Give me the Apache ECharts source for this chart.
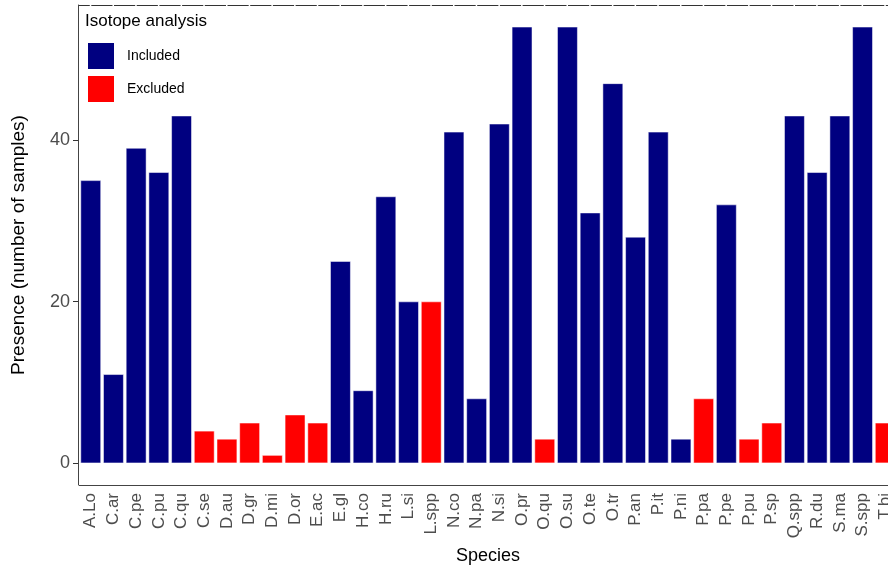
<!DOCTYPE html>
<html><head><meta charset="utf-8">
<script src="https://cdn.jsdelivr.net/npm/echarts@6/dist/echarts.min.js"></script>
<style>html,body{margin:0;padding:0;background:#fff}#c{width:888px;height:566px}</style>
</head><body><div id="c"></div>
<script>
const categories = ['A.Lo','C.ar','C.pe','C.pu','C.qu','C.se','D.au','D.gr','D.mi','D.or','E.ac','E.gl','H.co','H.ru','L.si','L.spp','N.co','N.pa','N.si','O.pr','O.qu','O.su','O.te','O.tr','P.an','P.it','P.ni','P.pa','P.pe','P.pu','P.sp','Q.spp','R.du','S.ma','S.spp','T.bi'];
const included = [35,11,39,36,43,null,null,null,null,null,null,25,9,33,20,null,41,8,42,54,null,54,31,47,28,41,3,null,32,null,null,43,36,43,54,null];
const excluded = [null,null,null,null,null,4,3,5,1,6,5,null,null,null,null,20,null,null,null,null,3,null,null,null,null,null,null,8,null,3,5,null,null,null,null,5];
const yTicks = [0,20,40];
const seriesNames = ['Included','Excluded'];

const chart = echarts.init(document.getElementById('c'), null, {renderer:'canvas'});
const FONT = 'Liberation Sans, Arial, sans-serif';
const band = 22.7;
chart.setOption({
  animation: false,
  textStyle: {fontFamily: FONT},
  title: {text: 'Isotope analysis', left: 85, top: 13, padding: 0,
    textStyle: {fontFamily: FONT, fontSize: 17, fontWeight: 'normal', color: '#000'}},
  legend: {data: seriesNames, orient: 'vertical', left: 86, top: 41, padding: 0,
    itemWidth: 28, itemHeight: 28, itemGap: 3, icon: 'rect',
    textStyle: {fontFamily: FONT, fontSize: 14, color: '#000', padding: [0,0,0,7]}},
  grid: {left: 79.4, top: 5, width: band*36, bottom: 81, containLabel: false, outerBoundsMode: 'none'},
  xAxis: [{
    type: 'category', data: categories, position: 'bottom',
    name: 'Species', nameLocation: 'middle', nameGap: 62,
    nameTextStyle: {fontFamily: FONT, fontSize: 18, color: '#000'},
    axisLine: {onZero: false, lineStyle: {color: '#444', width: 1}},
    axisTick: {alignWithLabel: true, length: 5, lineStyle: {color: '#333'}},
    axisLabel: {rotate: 90, fontSize: 17, color: '#4d4d4d', margin: 8, fontFamily: FONT, interval: 0}
  },{
    type: 'category', data: categories, position: 'top',
    axisLine: {onZero: false, lineStyle: {color: '#333', width: 1, type: [band-2.3, 2.3], dashOffset: (band-2.3)/2 + 0.2}},
    axisTick: {show: false}, axisLabel: {show: false}
  }],
  yAxis: {
    type: 'value', min: -2.7, max: 56.7, offset: 1.4,
    name: 'Presence (number of samples)', nameLocation: 'middle', nameGap: 50,
    nameTextStyle: {fontFamily: FONT, fontSize: 19, color: '#000'},
    axisLine: {show: true, lineStyle: {color: '#444', width: 1}},
    axisTick: {show: true, length: 5, customValues: yTicks, lineStyle: {color: '#333'}},
    axisLabel: {customValues: yTicks, fontSize: 18, color: '#4d4d4d', margin: 8, fontFamily: FONT},
    splitLine: {show: false}
  },
  series: [
    {name: seriesNames[0], type: 'bar', data: included, barWidth: '90%', barGap: '-100%',
     itemStyle: {color: '#000080', borderColor: '#fff', borderWidth: 0.5}},
    {name: seriesNames[1], type: 'bar', data: excluded, barWidth: '90%', barGap: '-100%',
     itemStyle: {color: '#ff0000', borderColor: '#fff', borderWidth: 0.5}}
  ]
});
</script></body></html>
